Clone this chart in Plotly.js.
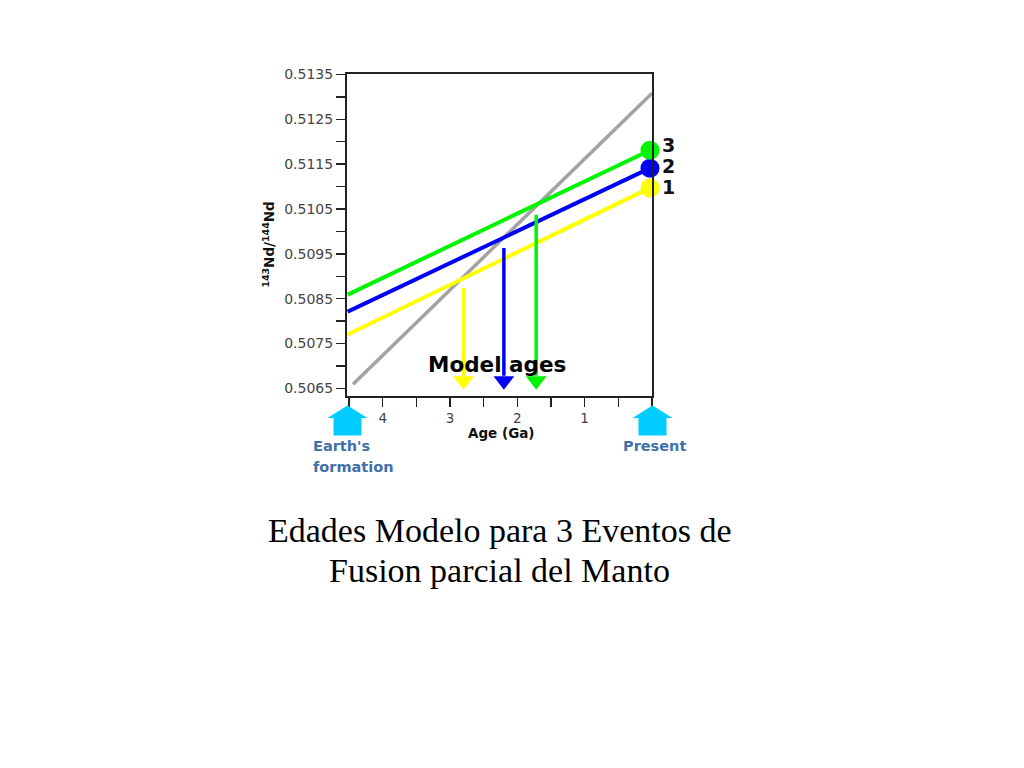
<!DOCTYPE html>
<html>
<head>
<meta charset="utf-8">
<script src="https://cdn.plot.ly/plotly-3.0.1.min.js"></script>
<style>html,body{margin:0;padding:0;background:#fff}#c{width:1024px;height:768px}</style>
</head>
<body>
<div id="c"></div>
<script>
// Data
const xRange = [4.53, 0];
const yRange = [0.50633, 0.51351];
const chordAges = [4.44, 0];
const chordValues = [0.50659, 0.51308];
const eventAges = [4.52, 0.03];
const event1Values = [0.50770, 0.51097];
const event2Values = [0.50821, 0.51141];
const event3Values = [0.50859, 0.51181];
const arrowAges = [2.80, 2.20, 1.72];
const arrowTops = [0.50874, 0.50963, 0.51037];
const arrowFoot = 0.50678;
const arrowTip = 0.50667;
const eventNames = ["1", "2", "3"];
const labelValues = [0.51100, 0.51146, 0.51192];
const yTicks = [0.5065, 0.5075, 0.5085, 0.5095, 0.5105, 0.5115, 0.5125, 0.5135];
const yMinorTicks = [0.5070, 0.5080, 0.5090, 0.5100, 0.5110, 0.5120, 0.5130];
const xTicks = [4, 3, 2, 1];
const xMinorTicks = [4.5, 3.5, 2.5, 1.5, 0.5, 0];
const colors = ["#ffff00", "#0000f5", "#00f500"];

const W = 1024, H = 768, L = 346.5, R = 652, T = 73.5, B = 396.5;
const px = v => (v - L) / (R - L);
const py = v => (B - v) / (B - T);

const traces = [];
traces.push({x: chordAges, y: chordValues, mode: 'lines', line: {color: '#a3a3a3', width: 3.5}, cliponaxis: false});
[event1Values, event2Values, event3Values].forEach((vals, i) => {
  traces.push({x: eventAges, y: vals, mode: 'lines', line: {color: colors[i], width: 4}, cliponaxis: false});
});
arrowAges.forEach((a, i) => {
  traces.push({x: [a, a], y: [arrowTops[i], arrowFoot], mode: 'lines', line: {color: colors[i], width: 3.5}});
  traces.push({x: [a], y: [arrowTip], mode: 'markers', marker: {symbol: 'triangle-down', size: 18, color: colors[i]}});
});
[event1Values, event2Values, event3Values].forEach((vals, i) => {
  traces.push({x: [eventAges[1]], y: [vals[1]], mode: 'markers', marker: {size: 19, color: colors[i]}, cliponaxis: false});
});

// Pixel-sized house-shaped arrows anchored under the axis ends (y is positive upward)
const house = 'M0,0 L20,-12.5 L14,-12.5 L14,-30 L-14,-30 L-14,-12.5 L-20,-12.5 Z';
const shapes = [347, 652.5].map(x => ({
  type: 'path', xref: 'paper', yref: 'paper', xsizemode: 'pixel', ysizemode: 'pixel',
  xanchor: px(x), yanchor: py(406), path: house,
  fillcolor: '#00ccff', line: {width: 0}
}));

const note = (text, x, y, size, color, family, bold, anchor) => ({
  text: bold ? '<b>' + text + '</b>' : text, xref: 'paper', yref: 'paper', x: px(x), y: py(y),
  xanchor: anchor || 'center', yanchor: 'middle', showarrow: false,
  font: {size, color, family}
});
const sans = '"DejaVu Sans", sans-serif';
const serif = '"Liberation Serif", serif';
const blue = '#3f70a8';
const yTitle = note('<sup>143</sup>Nd/<sup>144</sup>Nd', 268, 245, 13.5, '#111', sans, true);
yTitle.textangle = -90;
const annotations = [
  note('Model ages', 496.5, 365, 21.5, '#000', sans, true),
  note("Earth's", 310.5, 446.5, 14.5, blue, sans, true, 'left'),
  note('formation', 310.5, 467.5, 14.5, blue, sans, true, 'left'),
  note('Present', 654.5, 446.5, 14.5, blue, sans, true),
  note('Age (Ga)', 501, 434, 13.5, '#111', sans, true),
  note('Edades Modelo para 3 Eventos de', 499.5, 531, 34, '#000', serif, false),
  note('Fusion parcial del Manto', 499, 572, 34, '#000', serif, false),
  yTitle
];
eventNames.forEach((n, i) => {
  annotations.push({text: '<b>' + n + '</b>', xref: 'paper', yref: 'y', x: px(669), y: labelValues[i],
    xanchor: 'center', yanchor: 'middle', showarrow: false, font: {size: 19, color: '#111', family: sans}});
});

const layout = {
  width: W, height: H, showlegend: false,
  paper_bgcolor: '#fff', plot_bgcolor: '#fff',
  margin: {l: L, r: W - R, t: T, b: H - B, pad: 0},
  font: {family: sans, color: '#444'},
  xaxis: {
    range: xRange, showgrid: false, zeroline: false, showline: true, mirror: true,
    linecolor: '#222', linewidth: 2, ticks: 'outside', ticklen: 9, tickwidth: 1.5, tickcolor: '#222',
    tickmode: 'array', tickvals: xTicks, ticktext: xTicks.map(String), tickfont: {size: 13.5, color: '#444'},
    minor: {tickmode: 'array', tickvals: xMinorTicks, ticks: 'outside', ticklen: 9, tickwidth: 1.5, tickcolor: '#222', showgrid: false}
  },
  yaxis: {
    range: yRange, showgrid: false, zeroline: false, showline: true, mirror: true,
    linecolor: '#222', linewidth: 2, ticks: 'outside', ticklen: 9, tickwidth: 1.5, tickcolor: '#222',
    tickmode: 'array', tickvals: yTicks, ticktext: yTicks.map(v => v.toFixed(4)), tickfont: {size: 14, color: '#444'},
    minor: {tickmode: 'array', tickvals: yMinorTicks, ticks: 'outside', ticklen: 9, tickwidth: 1.5, tickcolor: '#222', showgrid: false}
  },
  shapes, annotations
};
Plotly.newPlot('c', traces, layout, {displayModeBar: false, staticPlot: true});
</script>
</body>
</html>
